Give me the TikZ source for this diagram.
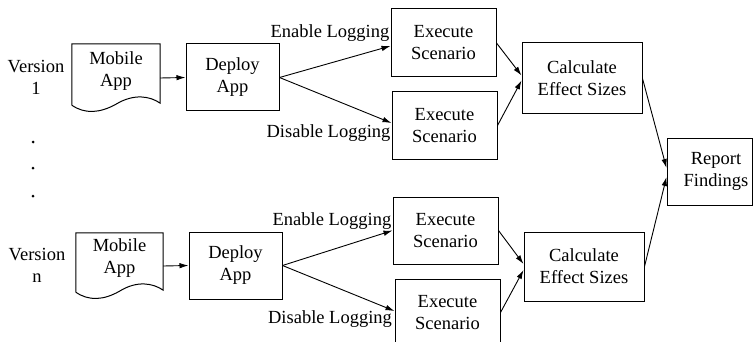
\documentclass[tikz,border=0pt]{standalone}
\usepackage{fontspec}
\setmainfont{Liberation Serif}
\usetikzlibrary{arrows.meta}
\begin{document}
\begin{tikzpicture}[x=1pt,y=-1pt,
  every node/.style={font=\fontsize{18.5}{22}\selectfont, align=center, inner sep=0pt},
  box/.style={draw, line width=1pt, minimum width=#1},
  box/.default=105,
  docbox/.style={minimum width=88, minimum height=68},
  conn/.style={line width=0.9pt, -{Latex[length=9pt,width=5.5pt]}},
  docline/.style={line width=1pt}]
\useasboundingbox (0,0) rectangle (754,342);

% labels of versions
\node (v1) at (36,77) {Version\\1};
\node (vn) at (37,265) {Version\\n};
\fill (33,142) circle (1.5);
\fill (33,168) circle (1.5);
\fill (33,196) circle (1.5);

% ---------- top row ----------
\node[docbox] (mob1) at (116,78) {};
\draw[docline] ([yshift=7]mob1.south west) -- (mob1.north west) -- (mob1.north east) -- ([yshift=9]mob1.south east)
  .. controls ([xshift=-10,yshift=16]mob1.south east) and ([xshift=-26,yshift=19]mob1.south east) .. ([yshift=8]mob1.south)
  .. controls ([xshift=28,yshift=-1]mob1.south west) and ([xshift=13,yshift=-2]mob1.south west) .. ([yshift=7]mob1.south west);
\node (mob1t) at (116,71) {Mobile\\App};

\node[box=93, minimum height=67] (dep1) at (232.5,77.5) {Deploy\\App};
\node[box, minimum height=68] (ex1) at (443.5,43) {Execute\\Scenario};
\node[box, minimum height=67] (ex2) at (444.5,125.5) {Execute\\Scenario};
\node[box=120, minimum height=71] (calc1) at (582,78.5) {Calculate\\Effect Sizes};

\node (en1) at (330,33) {Enable Logging};
\node (dis1) at (328.5,133) {Disable Logging};

\draw[conn] (mob1.east) -- (dep1.west);
\draw[conn] (dep1.east) -- ([yshift=-3]ex1.west);
\draw[conn] (dep1.east) -- ([yshift=2.5]ex2.west);
\draw[conn] (ex1.east) -- ([yshift=3]calc1.west);
\draw[conn] (ex2.east) -- ([yshift=-2]calc1.west);

% ---------- report ----------
\node[box=85, minimum height=67] (rep) at (709.5,171.5) {};
\node (rept) at (716,171.5) {Report\\Findings};

% ---------- bottom row ----------
\node[docbox, minimum width=87, minimum height=66] (mob2) at (119.5,266) {};
\draw[docline] ([yshift=7]mob2.south west) -- (mob2.north west) -- (mob2.north east) -- ([yshift=9]mob2.south east)
  .. controls ([xshift=-10,yshift=16]mob2.south east) and ([xshift=-26,yshift=19]mob2.south east) .. ([yshift=8]mob2.south)
  .. controls ([xshift=28,yshift=-1]mob2.south west) and ([xshift=13,yshift=-2]mob2.south west) .. ([yshift=7]mob2.south west);
\node (mob2t) at (119.5,258.5) {Mobile\\App};

\node[box=93, minimum height=67] (dep2) at (235.5,265.5) {Deploy\\App};
\node[box, minimum height=67] (ex3) at (445.5,230.5) {Execute\\Scenario};
\node[box, minimum height=67] (ex4) at (447.5,312.5) {Execute\\Scenario};
\node[box=120, minimum height=69] (calc2) at (584,266.5) {Calculate\\Effect Sizes};

\node (en2) at (332,221) {Enable Logging};
\node (dis2) at (330,319) {Disable Logging};

\draw[conn] (mob2.east) -- (dep2.west);
\draw[conn] (dep2.east) -- (ex3.west);
\draw[conn] (dep2.east) -- ([yshift=1.5]ex4.west);
\draw[conn] (ex3.east) -- ([yshift=2.5]calc2.west);
\draw[conn] (ex4.east) -- ([yshift=-3.5]calc2.west);

% ---------- to report ----------
\draw[conn] (calc1.east) -- ([yshift=3.5]rep.west);
\draw[conn] (calc2.east) -- ([yshift=-5.5]rep.west);
\end{tikzpicture}
\end{document}
